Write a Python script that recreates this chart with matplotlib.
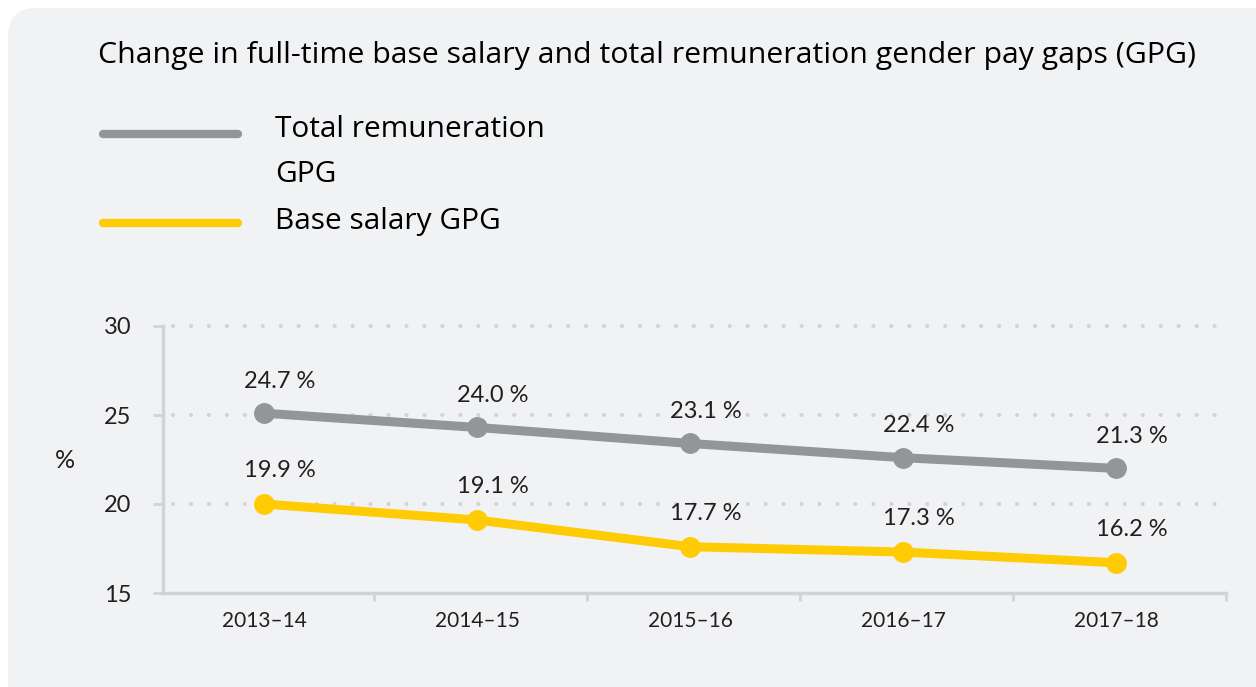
"""Full-time base salary vs total remuneration gender pay gap, 2013-14 to 2017-18."""

import matplotlib.pyplot as plt
from matplotlib.patches import FancyBboxPatch
from matplotlib.lines import Line2D

years = ["2013–14", "2014–15", "2015–16", "2016–17", "2017–18"]
total_gpg = [25.1, 24.3, 23.4, 22.6, 22.0]
base_gpg = [20.0, 19.1, 17.6, 17.3, 16.7]
total_labels = ["24.7 %", "24.0 %", "23.1 %", "22.4 %", "21.3 %"]
base_labels = ["19.9 %", "19.1 %", "17.7 %", "17.3 %", "16.2 %"]

GREY = "#939598"
YELLOW = "#ffcb05"
PANEL = "#f1f2f4"
AXIS = "#d2d3d5"
TEXT = "#231f20"


def main() -> None:
    fig = plt.figure(figsize=(12.56, 6.87), dpi=100, facecolor="white")

    # rounded light panel behind everything
    panel = FancyBboxPatch((0.08, -0.4), 12.9, 7.19,
                           boxstyle="round,pad=0,rounding_size=0.28",
                           transform=fig.dpi_scale_trans, facecolor=PANEL,
                           edgecolor="none", zorder=-10)
    fig.patches.append(panel)

    fig.text(98 / 1256, 1 - 55 / 687,
             "Change in full-time base salary and total remuneration gender pay gaps (GPG)",
             fontsize=21.8, family="Open Sans", color="black", va="center", ha="left")

    # legend drawn by hand to match the stacked layout
    for y, col in [(134, GREY), (223, YELLOW)]:
        fig.add_artist(Line2D([103 / 1256, 238 / 1256], [1 - y / 687] * 2,
                              color=col, lw=6, solid_capstyle="round",
                              transform=fig.transFigure))
    fig.text(275 / 1256, 1 - 152 / 687, "Total remuneration\nGPG", fontsize=21.5,
             family="Open Sans", va="center", ha="left", linespacing=1.7)
    fig.text(275 / 1256, 1 - 222 / 687, "Base salary GPG", fontsize=21.5,
             family="Open Sans", va="center", ha="left")

    ax = fig.add_axes([163 / 1256, 94 / 687, (1226 - 163) / 1256, (593 - 326) / 687])
    ax.set_facecolor("none")
    x = list(range(len(years)))

    ax.plot(x, total_gpg, color=GREY, lw=6.5, marker="o", markersize=14,
            solid_capstyle="round", zorder=3, clip_on=False)
    ax.plot(x, base_gpg, color=YELLOW, lw=6.5, marker="o", markersize=14,
            solid_capstyle="round", zorder=3, clip_on=False)

    for xi, v, s in zip(x, total_gpg, total_labels):
        ax.annotate(s, (xi, v), xytext=(11, 23), textcoords="offset points",
                    ha="center", va="center", fontsize=17, family="Lato", color=TEXT)
    for xi, v, s in zip(x, base_gpg, base_labels):
        ax.annotate(s, (xi, v), xytext=(11, 24), textcoords="offset points",
                    ha="center", va="center", fontsize=17, family="Lato", color=TEXT)

    ax.set_xlim(-0.475, 4.515)
    ax.set_ylim(15, 30)
    ax.set_yticks([15, 20, 25, 30])
    ax.set_yticklabels(["15", "20", "25", "30"], family="Lato", fontsize=17, color=TEXT)
    ax.set_xticks(x)
    ax.set_xticklabels(years, family="Lato", fontsize=15, color=TEXT)
    ax.set_xticks([0.515, 1.515, 2.515, 3.515, 4.515], minor=True)
    ax.tick_params(axis="x", which="major", length=0, pad=13)
    ax.tick_params(axis="x", which="minor", length=6, width=2, color=AXIS, direction="out")
    ax.tick_params(axis="y", length=7, width=2, color=AXIS, pad=16)

    for g in [20, 25, 30]:
        ax.plot([-0.43, 4.515], [g, g], color=AXIS, lw=3, linestyle=(0, (0.01, 4.3)),
                dash_capstyle="round", zorder=1, clip_on=False)

    for side in ["top", "right"]:
        ax.spines[side].set_visible(False)
    for side in ["left", "bottom"]:
        ax.spines[side].set_color(AXIS)
        ax.spines[side].set_linewidth(2.5)

    fig.text(65 / 1256, 1 - 460 / 687, "%", fontsize=18, family="Lato",
             color=TEXT, ha="center", va="center")

    fig.savefig("out.png", dpi=100, facecolor=fig.get_facecolor())


if __name__ == "__main__":
    main()
